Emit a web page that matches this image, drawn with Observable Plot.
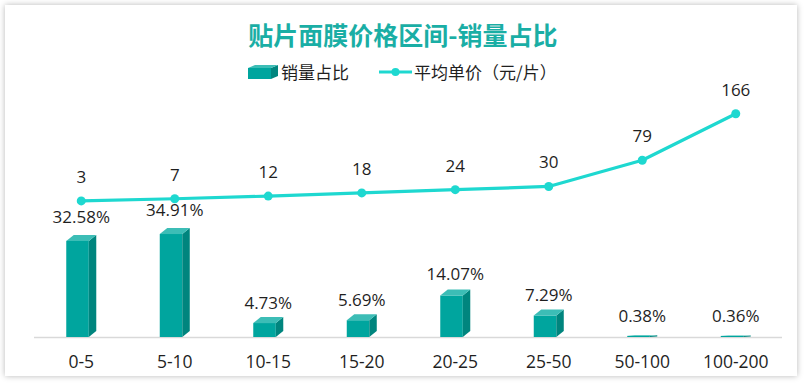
<!DOCTYPE html>
<html>
<head>
<meta charset="utf-8">
<script src="https://cdn.jsdelivr.net/npm/d3@7"></script>
<script src="https://cdn.jsdelivr.net/npm/@observablehq/plot@0.6"></script>
<style>
  body { margin: 0; background: #ffffff; }
  #wrap { position: relative; width: 806px; height: 383px; overflow: hidden; font-family: "Open Sans", "Noto Sans CJK SC", sans-serif; }
  #frame { position: absolute; left: 5px; top: 5px; width: 792px; height: 371px; background: #fff; box-shadow: 0 0 6px rgba(0,0,0,0.28); }
  #title { position: absolute; top: 16px; left: 0; width: 806px; text-align: center; font: 700 25px/36px "Noto Sans CJK SC", sans-serif; color: #1aaea5; }
  #legend { position: absolute; top: 60px; left: 248px; height: 24px; display: flex; align-items: center; font: 400 17px/24px "Noto Sans CJK SC", sans-serif; color: #1f1f1f; }
  #legend .item { display: flex; align-items: center; }
  #chart { position: absolute; top: 68px; left: 0; }
</style>
</head>
<body>
<div id="wrap">
  <div id="frame"></div>
  <div id="title">贴片面膜价格区间-销量占比</div>
  <div id="legend">
    <div class="item">
      <svg width="31" height="14"><polygon points="0,3 23,3 23,14 0,14" fill="#00a59e"/><polygon points="23,3 30,0 30,11 23,14" fill="#00857e"/><polygon points="0,3 7,0 30,0 23,3" fill="#3cbdb6"/></svg>
      <span style="margin-left:2px">销量占比</span>
    </div>
    <div class="item" style="margin-left:30px">
      <svg width="34" height="14"><line x1="0" y1="7" x2="33" y2="7" stroke="#1ed8d0" stroke-width="3"/><circle cx="16.5" cy="7" r="4" fill="#1ed8d0"/></svg>
      <span style="margin-left:1px">平均单价（元/片）</span>
    </div>
  </div>
  <div id="chart"></div>
</div>
<script>
const categories = ["0-5", "5-10", "10-15", "15-20", "20-25", "25-50", "50-100", "100-200"];
const salesShare = [32.58, 34.91, 4.73, 5.69, 14.07, 7.29, 0.38, 0.36];
const avgPrice = [3, 7, 12, 18, 24, 30, 79, 166];

const data = categories.map((c, i) => ({i, cat: c, share: salesShare[i], price: avgPrice[i]}));

// secondary (price) axis mapped onto primary (percent) axis
const priceToY = d3.scaleLinear().domain([-252.3, 188.8]).range([0, 80]);

// 3D bar geometry (in x-index units / percent units)
const FL = -0.155, FR = 0.086, DX = 0.08, DY = 2.03;
const FRONT = "#00a59e", SIDE = "#00857e", TOP = "#3cbdb6", LINE = "#1ed8d0";
const depth = d => Math.min(DY, d.share * 0.5);

const sideData = data.flatMap(d => [
  {i: d.i, x: d.i + FR, y1: 0, y2: d.share},
  {i: d.i, x: d.i + FR + DX, y1: depth(d), y2: d.share + depth(d)}
]);
const topData = data.flatMap(d => [
  {i: d.i, x: d.i + FL, y1: d.share, y2: d.share},
  {i: d.i, x: d.i + FL + DX, y1: d.share, y2: d.share + depth(d)},
  {i: d.i, x: d.i + FR, y1: d.share, y2: d.share + depth(d)},
  {i: d.i, x: d.i + FR + DX, y1: d.share + depth(d), y2: d.share + depth(d)}
]);

const chart = Plot.plot({
  width: 806,
  height: 315,
  marginLeft: 34,
  marginRight: 24,
  marginTop: 33,
  marginBottom: 46,
  style: {fontFamily: "'Open Sans', 'Noto Sans CJK SC', sans-serif", background: "transparent", color: "#1f1f1f"},
  x: {domain: [-0.5, 7.5], axis: null},
  y: {domain: [0, 80], axis: null},
  marks: [
    Plot.ruleY([0], {x1: -0.5, x2: 7.5, stroke: "#d9d9d9", strokeWidth: 1.5}),
    Plot.axisX({ticks: d3.range(categories.length), tickFormat: i => categories[i], tickSize: 0, tickPadding: 18, fontSize: 17.5, fill: "#1f1f1f"}),
    Plot.rectY(data, {x1: d => d.i + FL, x2: d => d.i + FR, y1: 0, y2: "share", fill: FRONT}),
    Plot.areaY(sideData, {x: "x", y1: "y1", y2: "y2", z: "i", fill: SIDE, curve: "linear"}),
    Plot.areaY(topData, {x: "x", y1: "y1", y2: "y2", z: "i", fill: TOP, curve: "linear"}),
    Plot.text(data, {x: "i", y: d => d.share * 1.045, text: d => d.share.toFixed(2) + "%", dy: -19.5, fontSize: 17, fill: "#1f1f1f"}),
    Plot.line(data, {x: "i", y: d => priceToY(d.price), stroke: LINE, strokeWidth: 3.2}),
    Plot.dot(data, {x: "i", y: d => priceToY(d.price), r: 4.5, fill: LINE}),
    Plot.text(data, {x: "i", y: d => priceToY(d.price), text: d => String(d.price), dy: -23.5, fontSize: 17, fill: "#1f1f1f"})
  ]
});
document.getElementById("chart").appendChild(chart);
</script>
</body>
</html>
